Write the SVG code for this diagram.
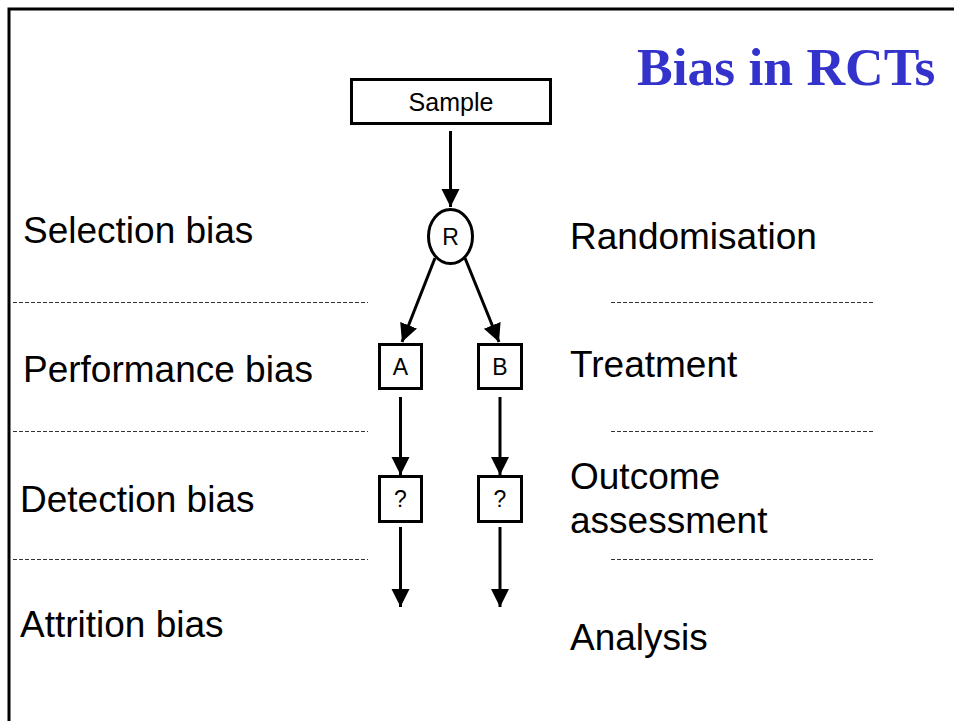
<svg xmlns="http://www.w3.org/2000/svg" width="954" height="721" viewBox="0 0 954 721">
<style>
.lbl{font-family:"Liberation Sans",Arial,sans-serif;font-size:37px;fill:#000}
.nt{font-family:"Liberation Sans",Arial,sans-serif;font-size:23px;fill:#000;text-anchor:middle}
.st{font-family:"Liberation Sans",Arial,sans-serif;font-size:25px;fill:#000;text-anchor:middle}
.box{fill:#fff;stroke:#000;stroke-width:3}
.edge{stroke:#000;stroke-width:3;fill:none}
.dash{stroke:#333;stroke-width:1;stroke-dasharray:4 2;fill:none}
</style>
<defs>
<marker id="ah" markerUnits="userSpaceOnUse" markerWidth="20" markerHeight="20" viewBox="0 0 20 20" refX="18" refY="10" orient="auto">
<path d="M0,1 L18,10 L0,19 Z" fill="#000"/>
</marker>
</defs>
<rect width="954" height="721" fill="#fff"/>
<path d="M9,721 V9 H954" fill="none" stroke="#000" stroke-width="3"/>
<text x="637" y="85" font-family="'Liberation Serif','Times New Roman',serif" font-weight="bold" font-size="53.5" fill="#3333CC">Bias in RCTs</text>
<g id="dividers">
<line class="dash" x1="13" y1="302.5" x2="368" y2="302.5"/>
<line class="dash" x1="13" y1="431.5" x2="368" y2="431.5"/>
<line class="dash" x1="13" y1="559.5" x2="368" y2="559.5"/>
<line class="dash" x1="611" y1="302.5" x2="874" y2="302.5"/>
<line class="dash" x1="611" y1="431.5" x2="874" y2="431.5"/>
<line class="dash" x1="611" y1="559.5" x2="874" y2="559.5"/>
</g>
<g id="labels-left">
<text class="lbl" x="23" y="243">Selection bias</text>
<text class="lbl" x="23" y="382">Performance bias</text>
<text class="lbl" x="20" y="512">Detection bias</text>
<text class="lbl" x="20" y="637">Attrition bias</text>
</g>
<g id="labels-right">
<text class="lbl" x="570" y="249">Randomisation</text>
<text class="lbl" x="570" y="377">Treatment</text>
<text class="lbl" x="570" y="489">Outcome</text>
<text class="lbl" x="570" y="533">assessment</text>
<text class="lbl" x="570" y="650">Analysis</text>
</g>
<g id="connectors">
<line class="edge" x1="450.5" y1="131" x2="450.5" y2="207" marker-end="url(#ah)"/>
<line class="edge" x1="435" y1="258" x2="402" y2="342" marker-end="url(#ah)"/>
<line class="edge" x1="465" y1="258" x2="499" y2="342" marker-end="url(#ah)"/>
<line class="edge" x1="400.5" y1="397" x2="400.5" y2="475" marker-end="url(#ah)"/>
<line class="edge" x1="500" y1="397" x2="500" y2="475" marker-end="url(#ah)"/>
<line class="edge" x1="400.5" y1="527" x2="400.5" y2="607" marker-end="url(#ah)"/>
<line class="edge" x1="500" y1="527" x2="500" y2="607" marker-end="url(#ah)"/>
</g>
<g id="sample">
<rect class="box" x="351.5" y="79.5" width="199" height="44"/>
<text class="st" x="451" y="111">Sample</text>
</g>
<g id="R">
<ellipse class="box" cx="450.5" cy="236.5" rx="22" ry="27"/>
<text class="nt" x="450.5" y="245">R</text>
</g>
<g id="A">
<rect class="box" x="379.5" y="344.5" width="42" height="44"/>
<text class="nt" x="400.5" y="375">A</text>
</g>
<g id="B">
<rect class="box" x="478.5" y="344.5" width="43" height="44"/>
<text class="nt" x="500" y="375">B</text>
</g>
<g id="QA">
<rect class="box" x="379.5" y="476.5" width="42" height="45"/>
<text class="nt" x="400.5" y="507">?</text>
</g>
<g id="QB">
<rect class="box" x="478.5" y="476.5" width="43" height="45"/>
<text class="nt" x="500" y="507">?</text>
</g>
</svg>
